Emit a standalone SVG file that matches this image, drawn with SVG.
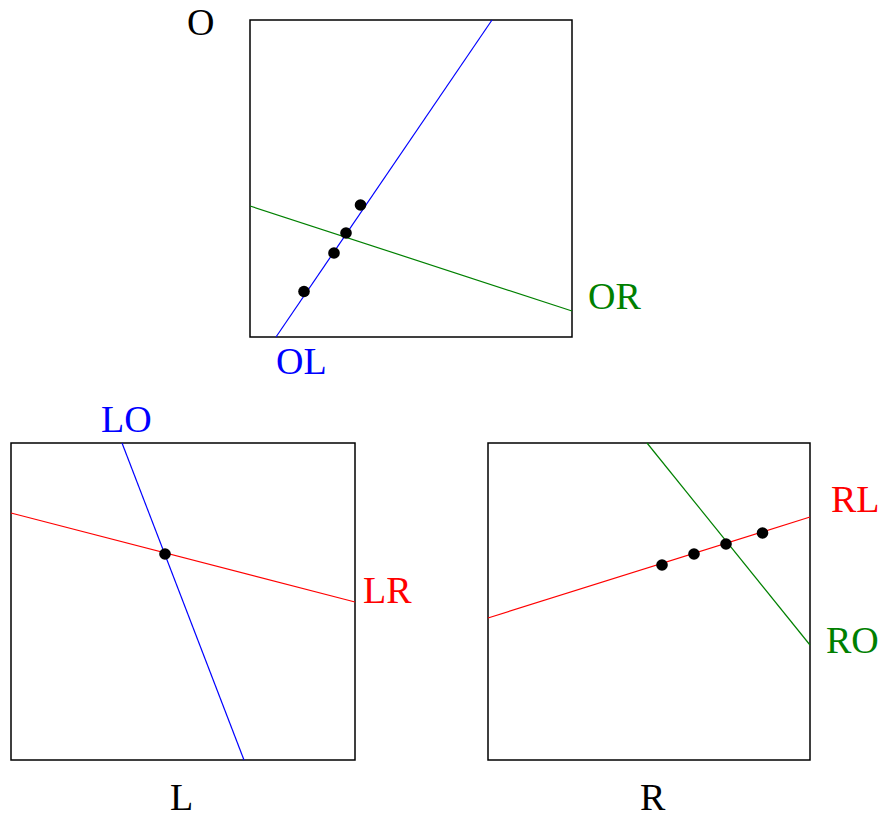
<svg xmlns="http://www.w3.org/2000/svg" width="883" height="818" viewBox="0 0 883 818">
<style>
.box{fill:none;stroke:#000;stroke-width:1.5}
.ln{fill:none;stroke-width:1.2}
.dot{fill:#000}
text{font-family:"Liberation Serif","Times New Roman",serif;font-size:38px}
</style>
<rect width="883" height="818" fill="#fff"/>
<g id="nodeO">
<rect class="box" x="250" y="20" width="322" height="317"/>
<text x="187" y="35">O</text>
</g>
<g id="nodeL">
<rect class="box" x="11" y="443" width="344" height="317"/>
<text x="170" y="810">L</text>
</g>
<g id="nodeR">
<rect class="box" x="488" y="443" width="322" height="317"/>
<text x="640" y="810">R</text>
</g>
<g id="connectors">
<line class="ln" stroke="#0000ff" x1="492" y1="20" x2="276" y2="337"/>
<line class="ln" stroke="#008000" x1="250" y1="206" x2="572" y2="311"/>
<line class="ln" stroke="#0000ff" x1="122" y1="443" x2="244" y2="760"/>
<line class="ln" stroke="#ff0000" x1="11" y1="513" x2="355" y2="602"/>
<line class="ln" stroke="#ff0000" x1="488" y1="618" x2="810" y2="517"/>
<line class="ln" stroke="#008000" x1="647" y1="443" x2="810" y2="645"/>
</g>
<g id="points">
<circle class="dot" cx="360.5" cy="205" r="5.8"/>
<circle class="dot" cx="346" cy="233" r="5.8"/>
<circle class="dot" cx="334" cy="253" r="5.8"/>
<circle class="dot" cx="304" cy="291.5" r="5.8"/>
<circle class="dot" cx="165" cy="554" r="5.8"/>
<circle class="dot" cx="662" cy="565" r="5.8"/>
<circle class="dot" cx="694" cy="554" r="5.8"/>
<circle class="dot" cx="726" cy="544" r="5.8"/>
<circle class="dot" cx="762.5" cy="533" r="5.8"/>
</g>
<g id="labels">
<text x="276" y="374" fill="#0000ff">OL</text>
<text x="588" y="309" fill="#008000">OR</text>
<text x="101" y="432" fill="#0000ff">LO</text>
<text x="363" y="603" fill="#ff0000">LR</text>
<text x="831" y="512" fill="#ff0000">RL</text>
<text x="826" y="653" fill="#008000">RO</text>
</g>
</svg>
